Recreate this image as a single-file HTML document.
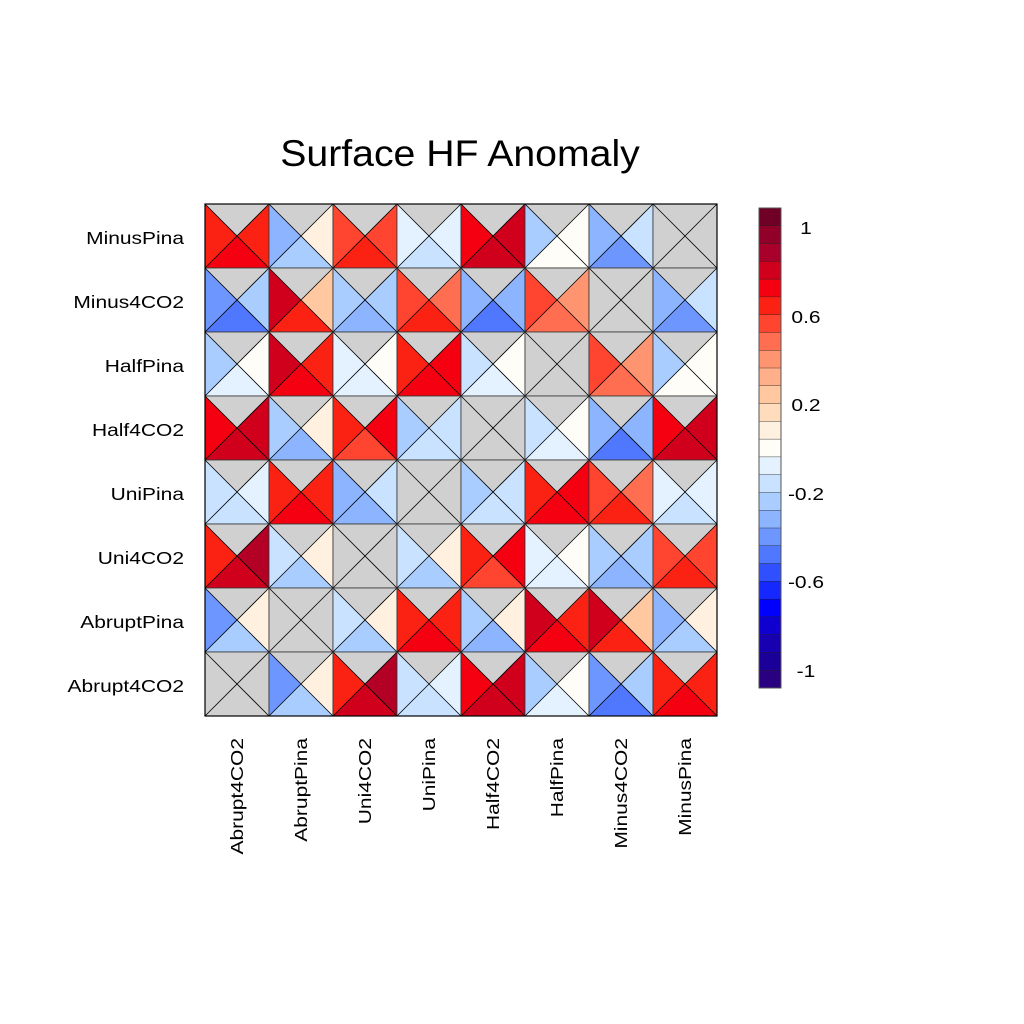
<!DOCTYPE html>
<html><head><meta charset="utf-8"><style>
html,body{margin:0;padding:0;background:#fff;}
svg{display:block;font-family:"Liberation Sans",sans-serif;}
</style></head><body>
<svg id="s" width="1024" height="1024" viewBox="0 0 1024 1024" xmlns="http://www.w3.org/2000/svg">
<rect width="1024" height="1024" fill="#fff"/>
<text transform="translate(460,166) scale(1.06,1)" font-size="37" text-anchor="middle">Surface HF Anomaly</text>
<g id="cells"></g>
<g id="cb"></g>
<g font-size="18" text-anchor="end" transform="translate(184,0) scale(1.165,1) translate(-184,0)">
<text x="184" y="244">MinusPina</text>
<text x="184" y="308">Minus4CO2</text>
<text x="184" y="372">HalfPina</text>
<text x="184" y="436">Half4CO2</text>
<text x="184" y="500">UniPina</text>
<text x="184" y="564">Uni4CO2</text>
<text x="184" y="628">AbruptPina</text>
<text x="184" y="692">Abrupt4CO2</text>
</g>
<g font-size="18" text-anchor="end">
<text transform="translate(243,738) rotate(-90) scale(1.165,1)">Abrupt4CO2</text>
<text transform="translate(307,738) rotate(-90) scale(1.165,1)">AbruptPina</text>
<text transform="translate(371,738) rotate(-90) scale(1.165,1)">Uni4CO2</text>
<text transform="translate(435,738) rotate(-90) scale(1.165,1)">UniPina</text>
<text transform="translate(499,738) rotate(-90) scale(1.165,1)">Half4CO2</text>
<text transform="translate(563,738) rotate(-90) scale(1.165,1)">HalfPina</text>
<text transform="translate(627,738) rotate(-90) scale(1.165,1)">Minus4CO2</text>
<text transform="translate(691,738) rotate(-90) scale(1.165,1)">MinusPina</text>
</g>
<g font-size="18" text-anchor="middle">
<text transform="translate(806,234) scale(1.165,1)">1</text>
<text transform="translate(806,323) scale(1.165,1)">0.6</text>
<text transform="translate(806,411) scale(1.165,1)">0.2</text>
<text transform="translate(806,500) scale(1.165,1)">-0.2</text>
<text transform="translate(806,588) scale(1.165,1)">-0.6</text>
<text transform="translate(806,677) scale(1.165,1)">-1</text>
</g>
</svg>
<script>
var P={G:"#d0d0d0",R1:"#fb2214",R2:"#f50010",R3:"#d0001d",R4:"#b40024",O1:"#ff4530",O2:"#ff6e50",O3:"#ff9570",P:"#ffc8a0",C:"#fff0e0",W:"#fffdf8",L1:"#e4f2ff",L2:"#c8e2ff",L3:"#aacdff",L4:"#8cb4ff",L5:"#6e96ff",L6:"#5078ff"};
var D=[
["R1 R1 R2","L4 C L3","O1 O1 R1","L1 L1 L2","R2 R3 R3","L3 W W","L4 L2 L5","A"],
["L5 L3 L6","R3 P R1","L3 L3 L4","O1 O2 R1","L4 L4 L6","O1 O3 O2","A","L4 L2 L5"],
["L3 W L1","R3 R1 R2","L1 W L1","R1 R2 R2","L2 W L1","A","O1 O3 O2","L3 W W"],
["R2 R3 R3","L3 C L4","R1 R2 O1","L3 L2 L2","A","L2 W L1","L4 L4 L6","R2 R3 R3"],
["L2 L1 L2","R1 R1 R2","L4 L2 L4","A","L3 L2 L2","R1 R2 R2","O1 O2 R1","L1 L1 L2"],
["R1 R4 R3","L2 C L3","A","L2 C L3","R1 R2 O1","L1 W L1","L3 L3 L4","O1 O1 R1"],
["L5 C L3","A","L2 C L3","R1 R1 R2","L3 C L4","R3 R1 R2","R3 P R1","L4 C L3"],
["A","L5 C L3","R1 R4 R3","L2 L1 L2","R2 R3 R3","L3 W L1","L5 L3 L6","R1 R1 R2"]];
var h="";
for(var r=0;r<8;r++)for(var c=0;c<8;c++){
 var x=205+c*64,y=204+r*64,cx=x+32,cy=y+32,s=D[r][c],L,R,B;
 if(s=="A"){L=R=B="G";}else{var a=s.split(" ");L=a[0];R=a[1];B=a[2];}
 h+='<polygon points="'+x+','+y+' '+(x+64)+','+y+' '+cx+','+cy+'" fill="'+P.G+'"/>';
 h+='<polygon points="'+(x+64)+','+y+' '+(x+64)+','+(y+64)+' '+cx+','+cy+'" fill="'+P[R]+'"/>';
 h+='<polygon points="'+x+','+(y+64)+' '+(x+64)+','+(y+64)+' '+cx+','+cy+'" fill="'+P[B]+'"/>';
 h+='<polygon points="'+x+','+y+' '+x+','+(y+64)+' '+cx+','+cy+'" fill="'+P[L]+'"/>';
 h+='<line x1="'+x+'" y1="'+y+'" x2="'+(x+64)+'" y2="'+(y+64)+'" stroke="#000" stroke-width="0.8"/>';
 h+='<line x1="'+(x+64)+'" y1="'+y+'" x2="'+x+'" y2="'+(y+64)+'" stroke="#000" stroke-width="0.8"/>';
 h+='<rect x="'+x+'" y="'+y+'" width="64" height="64" fill="none" stroke="#333" stroke-width="0.8"/>';
}
h+='<rect x="205" y="204" width="512" height="512" fill="none" stroke="#000" stroke-width="1.2"/>';
document.getElementById("cells").innerHTML=h;
var cb=["#700025","#900028","#a8002a","#d0001d","#f50010","#fb2214","#ff4530","#ff6e50","#ff9570","#ffb08a","#ffc8a0","#ffdcbc","#fff0e0","#fffdf8","#e4f2ff","#c8e2ff","#aacdff","#8cb4ff","#6e96ff","#5078ff","#3050ff","#1428ff","#0000ff","#1000d0","#1800b0","#1a0098","#280080"];
var g="",bh=480/27;
for(var i=0;i<27;i++){g+='<rect x="759" y="'+(208+i*bh)+'" width="22" height="'+(bh+0.3)+'" fill="'+cb[i]+'" stroke="#222" stroke-width="0.4"/>';}
g+='<rect x="759" y="208" width="22" height="480" fill="none" stroke="#555" stroke-width="1"/>';
document.getElementById("cb").innerHTML=g;
</script>
</body></html>
